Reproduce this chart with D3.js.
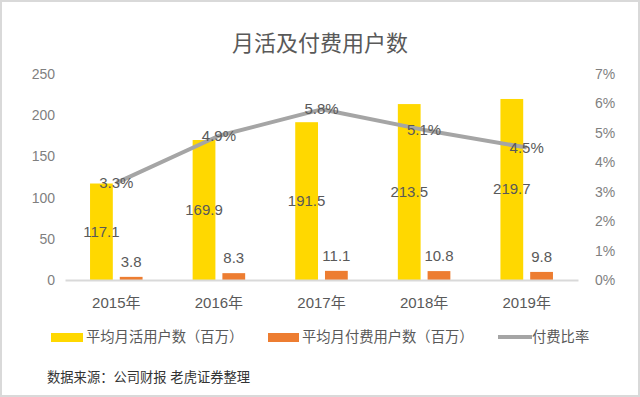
<!DOCTYPE html>
<html><head><meta charset="utf-8">
<script src="https://cdn.jsdelivr.net/npm/d3@7"></script>
<style>
html,body{margin:0;padding:0;background:#fff;}
svg text{font-family:"Liberation Sans","Noto Sans CJK SC",sans-serif;}
</style></head>
<body><svg id="c" width="640" height="397"></svg>
<script>
const categories = ["2015年","2016年","2017年","2018年","2019年"];
const mau = [117.1,169.9,191.5,213.5,219.7];
const paying = [3.8,8.3,11.1,10.8,9.8];
const ratio = [3.3,4.9,5.8,5.1,4.5];
const leftTicks = [0,50,100,150,200,250];
const rightTicks = [0,1,2,3,4,5,6,7];

const svg = d3.select("#c");
const W=640,H=397;
svg.append("rect").attr("x",1).attr("y",1).attr("width",W-2).attr("height",H-2)
  .attr("fill","#fff").attr("stroke","#d9d9d9").attr("stroke-width",2);

const x0=65,x1=578,yb=280,yt=74;
const x = d3.scaleBand().domain(categories).range([x0,x1]);
const yL = d3.scaleLinear().domain([0,250]).range([yb,yt]);
const yR = d3.scaleLinear().domain([0,7]).range([yb,yt]);
const bw = x.bandwidth();
const barW = bw*0.222, gap = bw*0.068;

svg.append("text").attr("x",320).attr("y",51).attr("text-anchor","middle")
  .attr("font-size",22).attr("fill","#595959").text("月活及付费用户数");

// left axis
const gL = svg.append("g").attr("transform",`translate(${x0},0)`)
  .call(d3.axisLeft(yL).tickValues(leftTicks).tickSize(0).tickPadding(10));
gL.select(".domain").remove();
gL.selectAll("text").attr("font-size",14).attr("fill","#7f7f7f");

// right axis
const gR = svg.append("g").attr("transform",`translate(${x1},0)`)
  .call(d3.axisRight(yR).tickValues(rightTicks).tickFormat(d=>d+"%").tickSize(0).tickPadding(17));
gR.select(".domain").remove();
gR.selectAll("text").attr("font-size",14).attr("fill","#7f7f7f");

// bars
svg.selectAll(".b1").data(categories).enter().append("rect")
  .attr("x",(d)=>x(d)+bw/2-gap/2-barW).attr("y",(d,i)=>yL(mau[i]))
  .attr("width",barW).attr("height",(d,i)=>yb-yL(mau[i])).attr("fill","#FFD800");
svg.selectAll(".b2").data(categories).enter().append("rect")
  .attr("x",(d)=>x(d)+bw/2+gap/2).attr("y",(d,i)=>yL(paying[i]))
  .attr("width",barW).attr("height",(d,i)=>yb-yL(paying[i])).attr("fill","#ED7D31");

// x axis
const gX = svg.append("g").attr("transform",`translate(0,${yb})`)
  .call(d3.axisBottom(x).tickSize(0).tickPadding(17));
gX.select(".domain").attr("stroke","#d9d9d9").attr("stroke-width",2);
gX.selectAll("text").attr("font-size",15).attr("fill","#595959");

// line
const line = d3.line().x((d,i)=>x(categories[i])+bw/2).y(d=>yR(d));
svg.append("path").datum(ratio).attr("d",line).attr("fill","none")
  .attr("stroke","#A5A5A5").attr("stroke-width",4).attr("stroke-linejoin","round");

// labels
svg.selectAll(".l1").data(categories).enter().append("text")
  .attr("x",d=>x(d)+bw/2-gap/2-barW/2).attr("y",(d,i)=>(yL(mau[i])+yb)/2+5)
  .attr("text-anchor","middle").attr("font-size",15).attr("fill","#595959")
  .text((d,i)=>mau[i].toFixed(1));
svg.selectAll(".l2").data(categories).enter().append("text")
  .attr("x",d=>x(d)+bw/2+gap/2+barW/2).attr("y",(d,i)=>yL(paying[i])-10)
  .attr("text-anchor","middle").attr("font-size",15).attr("fill","#595959")
  .text((d,i)=>paying[i].toFixed(1));
svg.selectAll(".l3").data(categories).enter().append("text")
  .attr("x",d=>x(d)+bw/2).attr("y",(d,i)=>yR(ratio[i])+5)
  .attr("text-anchor","middle").attr("font-size",15).attr("fill","#595959")
  .text((d,i)=>ratio[i].toFixed(1)+"%");

// legend
const lg = svg.append("g");
lg.append("rect").attr("x",51).attr("y",333).attr("width",32).attr("height",9).attr("fill","#FFD800");
lg.append("text").attr("x",86).attr("y",342).attr("font-size",14.3).attr("fill","#595959").text("平均月活用户数（百万）");
lg.append("rect").attr("x",268).attr("y",333).attr("width",31).attr("height",9).attr("fill","#ED7D31");
lg.append("text").attr("x",302).attr("y",342).attr("font-size",14.3).attr("fill","#595959").text("平均月付费用户数（百万）");
lg.append("line").attr("x1",498).attr("x2",532).attr("y1",337).attr("y2",337).attr("stroke","#A5A5A5").attr("stroke-width",4);
lg.append("text").attr("x",532).attr("y",342).attr("font-size",14.3).attr("fill","#595959").text("付费比率");

svg.append("text").attr("x",47).attr("y",382).attr("font-size",13.3).attr("fill","#333").text("数据来源：公司财报 老虎证券整理");
</script></body></html>
